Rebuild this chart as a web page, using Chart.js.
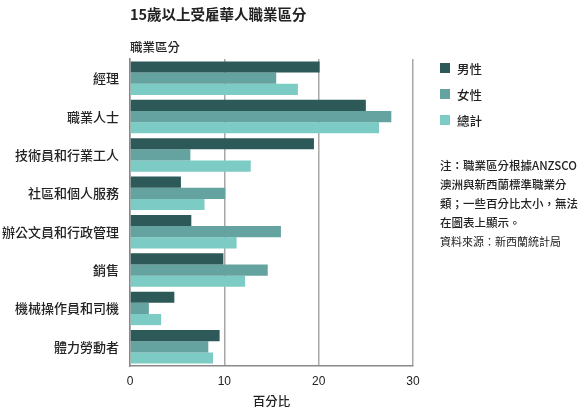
<!DOCTYPE html>
<html>
<head>
<meta charset="utf-8">
<script src="https://cdn.jsdelivr.net/npm/chart.js@4.4.0/dist/chart.umd.min.js"></script>
<style>
html,body{margin:0;padding:0;background:#fff;}
#wrap{position:relative;width:586px;height:409px;font-family:"Noto Sans CJK TC","Noto Sans",sans-serif;color:#222;}
canvas{position:absolute;left:0;top:0;}
.t{position:absolute;white-space:nowrap;}
#title{left:130px;top:3px;font-size:14.5px;font-weight:bold;}
#ytitle{left:130px;top:37px;font-size:12.5px;font-weight:500;}
#legend{left:440px;top:55px;font-size:12.5px;font-weight:500;}
#legend div{height:26px;display:flex;align-items:center;}
#legend span.sw{display:inline-block;width:10px;height:10px;margin-right:7px;}
#note{left:440px;top:156px;font-size:11.5px;line-height:19px;font-weight:500;}
#src{font-family:"Noto Sans CJK TC",serif;font-size:11px;font-weight:400;}
</style>
</head>
<body>
<div id="wrap">
<canvas id="c" width="586" height="409"></canvas>
<div class="t" id="title">15歲以上受雇華人職業區分</div>
<div class="t" id="ytitle">職業區分</div>
<div class="t" id="legend"></div>
<div class="t" id="note">注：職業區分根據ANZSCO<br>澳洲與新西蘭標準職業分<br>類；一些百分比太小，無法<br>在圖表上顯示。<br><span id="src">資料來源：新西蘭統計局</span></div>
</div>
<script>
const categories = ["經理","職業人士","技術員和行業工人","社區和個人服務","辦公文員和行政管理","銷售","機械操作員和司機","體力勞動者"];
const seriesNames = ["男性","女性","總計"];
const male   = [20.1, 25.0, 19.5, 5.4, 6.5, 9.9, 4.7, 9.5];
const female = [15.5, 27.7, 6.4, 10.1, 16.0, 14.6, 2.0, 8.3];
const total  = [17.8, 26.4, 12.8, 7.9, 11.3, 12.2, 3.3, 8.8];
const xTicks = [0, 10, 20, 30];
const colors = ["#2d5a59", "#64a39f", "#7ccbc4"];

const values = [male, female, total];
const leg = document.getElementById('legend');
seriesNames.forEach((n,i)=>{
  const d = document.createElement('div');
  d.innerHTML = '<span class="sw" style="background:'+colors[i]+'"></span>'+n;
  leg.appendChild(d);
});

new Chart(document.getElementById('c'), {
  type: 'bar',
  data: {
    labels: categories,
    datasets: seriesNames.map((n,i)=>({
      label: n, data: values[i], backgroundColor: colors[i],
      barPercentage: 1.0, categoryPercentage: 0.87, borderWidth: 0
    }))
  },
  options: {
    indexAxis: 'y',
    responsive: false,
    animation: false,
    events: [],
    layout: { padding: { left: 0, right: 173, top: 59, bottom: 0 } },
    plugins: { legend: { display: false }, tooltip: { enabled: false } },
    scales: {
      x: {
        min: 0, max: 30,
        afterBuildTicks: s => { s.ticks = xTicks.map(v=>({value:v})); },
        grid: { color: '#a8a8a8', lineWidth: 1.5, drawTicks: false },
        border: { color: '#888', width: 1.5 },
        ticks: { color: '#222', font: { size: 12, family: 'Arial, "Liberation Sans", sans-serif' }, padding: 8 },
        title: { display: true, text: '百分比', color: '#222', font: { size: 12.5, weight: '500', family: '"Noto Sans CJK TC", sans-serif' }, padding: { top: 2, bottom: 0 } },
        afterFit: s => { s.height = 43; }
      },
      y: {
        grid: { display: false, drawTicks: false },
        border: { color: '#888', width: 1.5 },
        ticks: { color: '#222', font: { size: 13, weight: '500', family: '"Noto Sans CJK TC", sans-serif' }, padding: 11 },
        afterFit: s => { s.width = 130; }
      }
    }
  }
});
</script>
</body>
</html>
